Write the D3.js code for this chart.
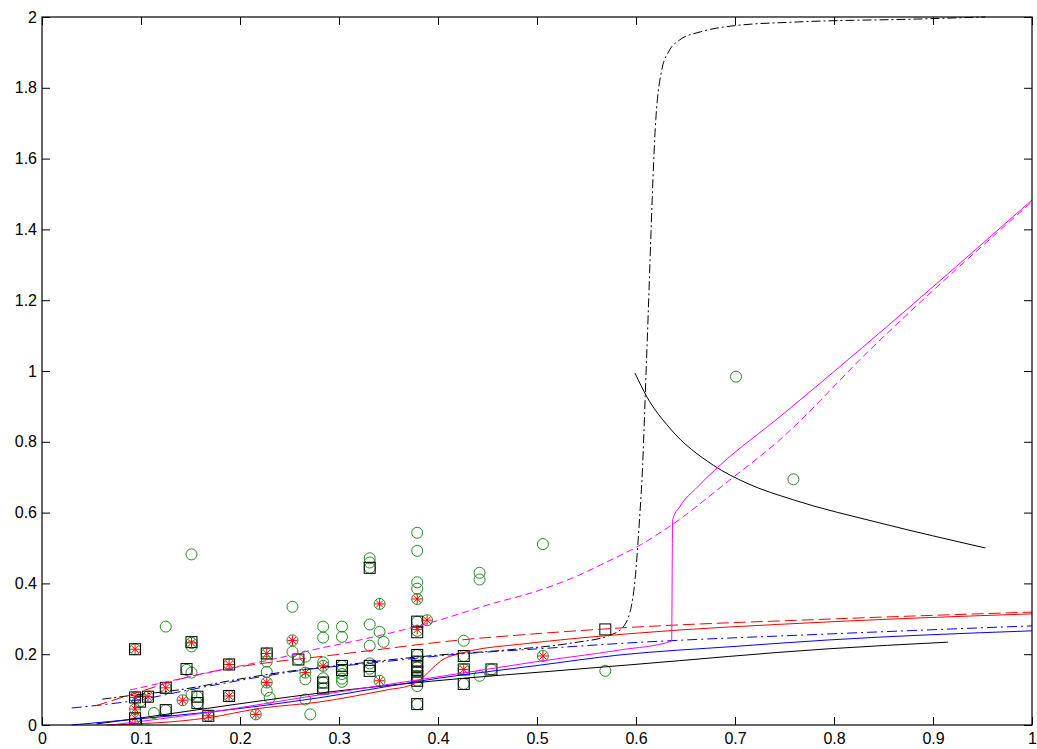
<!DOCTYPE html>
<html>
<head>
<meta charset="utf-8">
<script src="https://cdn.jsdelivr.net/npm/d3@7"></script>
<style>
  html, body { margin: 0; padding: 0; background: #fff; }
  svg text { font-family: "Liberation Sans", Arial, Helvetica, sans-serif; font-size: 16px; fill: #000; }
</style>
</head>
<body>
<svg id="chart" width="1037" height="749"></svg>
<script>
// ---- axis ticks ----
const xTicks = [0, 0.1, 0.2, 0.3, 0.4, 0.5, 0.6, 0.7, 0.8, 0.9, 1];
const yTicks = [0, 0.2, 0.4, 0.6, 0.8, 1, 1.2, 1.4, 1.6, 1.8, 2];

// ---- measured samples ----
const circlePts = [
  [0.151,0.482],[0.125,0.278],[0.253,0.334],
  [0.094,0.214],[0.151,0.232],[0.151,0.222],[0.146,0.156],[0.151,0.148],[0.189,0.171],[0.227,0.202],
  [0.227,0.179],[0.227,0.15],[0.227,0.12],[0.227,0.097],[0.23,0.077],
  [0.125,0.105],[0.094,0.078],[0.099,0.066],[0.107,0.08],[0.142,0.07],[0.151,0.086],[0.157,0.08],
  [0.157,0.062],[0.189,0.082],[0.113,0.034],[0.125,0.042],[0.094,0.045],[0.094,0.019],[0.168,0.026],[0.216,0.03],
  [0.253,0.239],[0.253,0.207],[0.259,0.185],[0.266,0.193],[0.266,0.148],[0.266,0.129],[0.266,0.072],[0.271,0.03],
  [0.284,0.278],[0.284,0.247],[0.284,0.177],[0.284,0.167],[0.284,0.132],[0.284,0.12],[0.284,0.103],
  [0.303,0.278],[0.303,0.249],[0.303,0.167],[0.303,0.155],[0.303,0.144],[0.303,0.131],[0.303,0.122],
  [0.331,0.471],[0.331,0.459],[0.331,0.444],[0.331,0.284],[0.331,0.224],[0.331,0.174],[0.331,0.159],
  [0.341,0.342],[0.341,0.263],[0.345,0.235],[0.341,0.125],
  [0.379,0.543],[0.379,0.492],[0.379,0.403],[0.379,0.385],[0.379,0.356],[0.379,0.292],[0.379,0.266],[0.389,0.296],
  [0.379,0.198],[0.379,0.179],[0.379,0.163],[0.379,0.151],[0.379,0.137],[0.379,0.125],[0.379,0.11],[0.379,0.059],
  [0.426,0.238],[0.426,0.195],[0.426,0.157],[0.426,0.116],[0.442,0.43],[0.442,0.411],[0.442,0.139],[0.454,0.157],
  [0.506,0.511],[0.506,0.195],[0.569,0.153],[0.701,0.984],[0.759,0.694]
];
const squarePts = [
  [0.094,0.214],[0.151,0.234],[0.146,0.158],[0.189,0.171],[0.227,0.202],[0.125,0.105],[0.094,0.078],
  [0.099,0.066],[0.107,0.08],[0.157,0.08],[0.157,0.062],[0.189,0.082],[0.125,0.042],[0.094,0.019],
  [0.168,0.026],[0.259,0.185],[0.284,0.12],[0.284,0.103],[0.303,0.167],[0.303,0.155],[0.331,0.444],
  [0.331,0.167],[0.331,0.153],[0.379,0.292],[0.379,0.262],[0.379,0.198],[0.379,0.179],[0.379,0.163],
  [0.379,0.151],[0.379,0.137],[0.379,0.125],[0.379,0.059],[0.426,0.195],[0.426,0.157],[0.426,0.116],
  [0.454,0.157],[0.569,0.27]
];
const starPts = [
  [0.094,0.214],[0.151,0.232],[0.189,0.171],[0.227,0.202],[0.125,0.105],[0.094,0.078],[0.107,0.08],
  [0.189,0.082],[0.094,0.019],[0.168,0.026],[0.426,0.157],
  [0.094,0.045],[0.142,0.07],[0.216,0.03],[0.227,0.12],[0.253,0.239],[0.266,0.148],[0.284,0.167],
  [0.341,0.342],[0.341,0.125],[0.379,0.356],[0.379,0.27],[0.389,0.296],[0.506,0.195]
];

// ---- model curves ----
const blackSolidX = [0.055,0.1,0.167,0.28,0.43,0.506,0.594,0.793,0.915];
const blackSolidY = [0.003,0.02,0.047,0.09,0.133,0.15,0.17,0.215,0.234];

const blackDashX = [0.061,0.08,0.14,0.2,0.24,0.3,0.402,0.47,0.536,0.574,0.587,0.596,0.599,0.604,0.606,0.611,0.62,0.626,0.634,0.644,0.665,0.698,0.763,0.88,0.953];
const blackDashY = [0.073,0.08,0.1,0.13,0.148,0.168,0.198,0.212,0.232,0.254,0.277,0.345,0.41,0.6,0.692,1.06,1.71,1.85,1.907,1.935,1.958,1.975,1.986,1.994,2.0];

const blackDecayX = [0.599,0.611,0.634,0.678,0.712,0.759,0.846,0.953];
const blackDecayY = [0.994,0.927,0.839,0.734,0.683,0.636,0.571,0.5];

const redSolidX = [0.065,0.167,0.22,0.28,0.35,0.372,0.385,0.395,0.405,0.42,0.432,0.486,0.594,0.793,1.0];
const redSolidY = [0,0.02,0.047,0.065,0.1,0.112,0.135,0.162,0.185,0.2,0.209,0.229,0.258,0.291,0.314];

const redDashX = [0.054,0.1,0.14,0.233,0.271,0.322,0.422,0.486,0.584,0.793,1.0];
const redDashY = [0.054,0.095,0.13,0.178,0.19,0.207,0.24,0.255,0.274,0.299,0.319];

const blueSolidX = [0.03,0.1,0.167,0.28,0.4,0.5,0.584,0.7,0.793,1.0];
const blueSolidY = [0,0.018,0.036,0.077,0.132,0.168,0.198,0.222,0.24,0.266];

const blueDashX = [0.03,0.1,0.15,0.24,0.271,0.322,0.42,0.5,0.594,0.793,1.0];
const blueDashY = [0.048,0.072,0.1,0.145,0.158,0.172,0.2,0.215,0.232,0.257,0.28];

const magSolidX = [0.07,0.167,0.28,0.4,0.5,0.584,0.636,0.637,0.644,0.662,0.685,0.745,0.829,1.0];
const magSolidY = [0,0.035,0.085,0.136,0.179,0.212,0.237,0.58,0.616,0.672,0.734,0.87,1.067,1.483];

const magDashX = [0.089,0.18,0.24,0.281,0.321,0.402,0.45,0.503,0.547,0.564,0.604,0.637,0.692,0.745,0.836,1.0];
const magDashY = [0.099,0.155,0.19,0.217,0.24,0.297,0.339,0.381,0.429,0.452,0.508,0.567,0.686,0.805,1.059,1.478];

// ---- layout ----
const svg = d3.select("#chart");
const plotL = 42, plotR = 1032, plotT = 17, plotB = 725;
const x = d3.scaleLinear().domain([0, 1]).range([plotL, plotR]);
const y = d3.scaleLinear().domain([0, 2]).range([plotB, plotT]);
const fmt = d => String(+d.toFixed(1));

const curves = [
  { xs: blackSolidX, ys: blackSolidY, color: "#000", dash: null },
  { xs: blackDecayX, ys: blackDecayY, color: "#000", dash: null },
  { xs: blackDashX, ys: blackDashY, color: "#000", dash: "9,3,2,3" },
  { xs: blueSolidX, ys: blueSolidY, color: "#0000ff", dash: null },
  { xs: blueDashX, ys: blueDashY, color: "#0000ff", dash: "10,4,2,4" },
  { xs: redSolidX, ys: redSolidY, color: "#ff0000", dash: null },
  { xs: redDashX, ys: redDashY, color: "#ff0000", dash: "12,5" },
  { xs: magSolidX, ys: magSolidY, color: "#ff00ff", dash: null },
  { xs: magDashX, ys: magDashY, color: "#ff00ff", dash: "7,4" }
];

const plot = svg.append("g");

// markers: circles, squares, asterisks
const green = "#1f8f1f";
plot.append("g").selectAll("circle").data(circlePts).join("circle")
  .attr("cx", d => x(d[0])).attr("cy", d => y(d[1])).attr("r", 5.5)
  .attr("fill", "none").attr("stroke", green).attr("stroke-width", 1);

const sq = 11;
plot.append("g").selectAll("rect").data(squarePts).join("rect")
  .attr("x", d => x(d[0]) - sq / 2).attr("y", d => y(d[1]) - sq / 2)
  .attr("width", sq).attr("height", sq)
  .attr("fill", "none").attr("stroke", "#000").attr("stroke-width", 1);

const starPath = d => {
  const cx = x(d[0]), cy = y(d[1]), r = 5, q = r * 0.72;
  return `M${cx - r},${cy}L${cx + r},${cy}M${cx},${cy - r}L${cx},${cy + r}` +
         `M${cx - q},${cy - q}L${cx + q},${cy + q}M${cx - q},${cy + q}L${cx + q},${cy - q}`;
};
plot.append("g").selectAll("path").data(starPts).join("path")
  .attr("d", starPath).attr("fill", "none").attr("stroke", "#ff0000").attr("stroke-width", 1);

// curves, smoothed between the sampled points
const line = d3.line().x(d => x(d[0])).y(d => y(d[1])).curve(d3.curveMonotoneX);
plot.append("g").selectAll("path").data(curves).join("path")
  .attr("d", c => line(c.xs.map((v, i) => [v, c.ys[i]])))
  .attr("fill", "none")
  .attr("stroke", c => c.color)
  .attr("stroke-width", 1)
  .attr("stroke-dasharray", c => c.dash);

// axes with inward ticks on all four sides
const tick = 8;
const axB = svg.append("g").attr("transform", `translate(0,${plotB})`)
  .call(d3.axisBottom(x).tickValues(xTicks).tickFormat(fmt).tickSizeInner(-tick).tickSizeOuter(0).tickPadding(8));
const axL = svg.append("g").attr("transform", `translate(${plotL},0)`)
  .call(d3.axisLeft(y).tickValues(yTicks).tickFormat(fmt).tickSizeInner(-tick).tickSizeOuter(0).tickPadding(5));
const axT = svg.append("g").attr("transform", `translate(0,${plotT})`)
  .call(d3.axisTop(x).tickValues(xTicks).tickFormat("").tickSizeInner(-tick).tickSizeOuter(0));
const axR = svg.append("g").attr("transform", `translate(${plotR},0)`)
  .call(d3.axisRight(y).tickValues(yTicks).tickFormat("").tickSizeInner(-tick).tickSizeOuter(0));

[axB, axL, axT, axR].forEach(g => {
  g.select(".domain").remove();
  g.selectAll("line").attr("stroke", "#000").attr("stroke-width", 1);
  g.selectAll("text").attr("font-size", 16).attr("font-family", "Liberation Sans, Arial, sans-serif");
});

svg.append("rect")
  .attr("x", plotL).attr("y", plotT).attr("width", plotR - plotL).attr("height", plotB - plotT)
  .attr("fill", "none").attr("stroke", "#000").attr("stroke-width", 1.2);
</script>
</body>
</html>
